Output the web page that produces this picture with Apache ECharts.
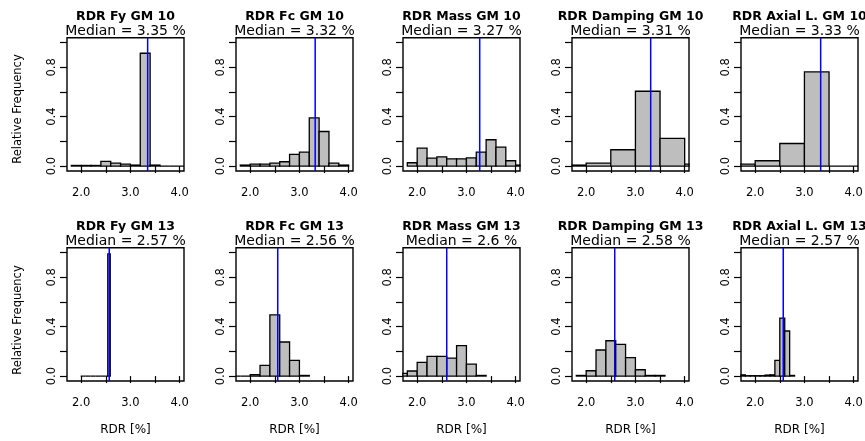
<!DOCTYPE html>
<html>
<head>
<meta charset="utf-8">
<script src="https://cdn.jsdelivr.net/npm/echarts@6/dist/echarts.min.js"></script>
<style>
html, body { margin: 0; padding: 0; background: #fff; }
#chart { width: 865px; height: 441px; }
</style>
</head>
<body>
<div id="chart"></div>
<script>
var myChart = echarts.init(document.getElementById('chart'));

// panel titles, top row = GM 10, bottom row = GM 13
var titles = [
    'RDR Fy GM 10', 'RDR Fc GM 10', 'RDR Mass GM 10', 'RDR Damping GM 10', 'RDR Axial L. GM 10',
    'RDR Fy GM 13', 'RDR Fc GM 13', 'RDR Mass GM 13', 'RDR Damping GM 13', 'RDR Axial L. GM 13'
];
var medians = [3.35, 3.32, 3.27, 3.31, 3.33, 2.57, 2.56, 2.6, 2.58, 2.57];

// histogram breaks: first break and bin width of each panel
var binStart = [1.8, 1.8, 1.8, 1.5, 1.5, 1.99, 1.6, 1.6, 1.8, 1.7];
var binWidth = [0.2, 0.2, 0.2, 0.5, 0.5, 0.05, 0.2, 0.2, 0.2, 0.1];

// relative frequencies, one value per bin
var fyGM10 = [0.005, 0.005, 0.005, 0.038, 0.024, 0.016, 0.008, 0.914, 0.008, 0, 0, 0];
var fcGM10 = [0.008, 0.016, 0.016, 0.024, 0.035, 0.094, 0.113, 0.39, 0.28, 0.024, 0.008];
var massGM10 = [0.027, 0.146, 0.065, 0.075, 0.059, 0.059, 0.067, 0.113, 0.213, 0.154, 0.043, 0.008];
var dampGM10 = [0.008, 0.024, 0.132, 0.606, 0.224, 0.016];
var axialGM10 = [0.016, 0.043, 0.183, 0.763, 0, 0];
var fyGM13 = [0, 0, 0, 0, 0, 0, 0, 0, 0, 0, 0, 0.99];
var fcGM13 = [0, 0, 0.011, 0.086, 0.495, 0.276, 0.127, 0.005];
var massGM13 = [0.022, 0.041, 0.111, 0.159, 0.159, 0.146, 0.246, 0.097, 0.005];
var dampGM13 = [0.005, 0.043, 0.211, 0.286, 0.257, 0.149, 0.051, 0.005, 0.005];
var axialGM13 = [0.01, 0.003, 0.003, 0.003, 0.003, 0.008, 0.01, 0.127, 0.47, 0.365, 0.005];
var freqs = [fyGM10, fcGM10, massGM10, dampGM10, axialGM10,
             fyGM13, fcGM13, massGM13, dampGM13, axialGM13];

var xTicks = [2, 2.5, 3, 3.5, 4];
var xLabels = [2, 3, 4];
var yTicks = [0, 0.2, 0.4, 0.6, 0.8, 1];
var yLabels = [0, 0.4, 0.8];

var fontFam = 'DejaVu Sans';
var colLeft = [67, 236, 403, 572, 741];
var rowTop = [37.7, 247.7];
var boxW = 117, boxH = 133.3;

var grid = [], xAxis = [], yAxis = [], series = [], title = [];

function fmt(v) { return v.toFixed(1); }

// one histogram bar, clipped to the plot box
function barItem(params, api) {
    var p0 = api.coord([api.value(0), api.value(2)]);
    var p1 = api.coord([api.value(1), 0]);
    var cs = params.coordSys;
    var xa = Math.max(p0[0], cs.x);
    var xb = Math.min(p1[0], cs.x + cs.width);
    if (xb <= xa) return;
    return {
        type: 'rect',
        shape: { x: xa, y: p0[1], width: xb - xa, height: p1[1] - p0[1] },
        style: { fill: '#bebebe', stroke: '#000', lineWidth: 1.3 }
    };
}

for (var i = 0; i < 10; i++) {
    var r = Math.floor(i / 5), c = i % 5;
    var gLeft = colLeft[c], gTop = rowTop[r];

    grid.push({
        left: gLeft, top: gTop, width: boxW, height: boxH,
        show: true, borderColor: '#000', borderWidth: 1.4,
        backgroundColor: 'transparent', containLabel: false, outerBoundsMode: 'none'
    });

    xAxis.push({
        type: 'value', gridIndex: i, min: 1.712, max: 4.088,
        axisLine: { show: false },
        axisTick: { show: true, length: 7, customValues: xTicks, lineStyle: { color: '#000', width: 1.2 } },
        axisLabel: { customValues: xLabels, formatter: fmt, color: '#000', fontFamily: fontFam, fontSize: 11.5, margin: 16 },
        splitLine: { show: false },
        name: r === 1 ? 'RDR [%]' : '',
        nameLocation: 'middle', nameGap: 43,
        nameTextStyle: { color: '#000', fontFamily: fontFam, fontSize: 12 }
    });

    yAxis.push({
        type: 'value', gridIndex: i, min: -0.04, max: 1.04,
        axisLine: { show: false },
        axisTick: { show: true, length: 7, customValues: yTicks, lineStyle: { color: '#000', width: 1.2 } },
        axisLabel: { customValues: yLabels, formatter: fmt, rotate: 90, color: '#000', fontFamily: fontFam, fontSize: 11.5, margin: 9 },
        splitLine: { show: false }
    });

    var bars = [];
    for (var k = 0; k < freqs[i].length; k++) {
        var x0 = binStart[i] + k * binWidth[i];
        bars.push([x0, x0 + binWidth[i], freqs[i][k]]);
    }

    series.push({
        type: 'custom', xAxisIndex: i, yAxisIndex: i,
        data: bars,
        encode: { x: [0, 1], y: 2 },
        renderItem: barItem,
        silent: true, animation: false
    });

    // median line
    series.push({
        type: 'line', xAxisIndex: i, yAxisIndex: i,
        data: [[medians[i], -0.04], [medians[i], 1.04]],
        symbol: 'none',
        lineStyle: { color: '#0000ff', width: 1.5 },
        silent: true, animation: false
    });

    title.push({
        text: titles[i],
        subtext: 'Median = ' + medians[i] + ' %',
        left: gLeft + boxW / 2, top: gTop - 27,
        textAlign: 'center', padding: 0, itemGap: 0.5,
        textStyle: { fontFamily: fontFam, fontWeight: 'bold', fontSize: 12.5, lineHeight: 12.5, color: '#000' },
        subtextStyle: { fontFamily: fontFam, fontSize: 14, lineHeight: 14, color: '#000' }
    });
}

var graphic = [109, 320].map(function (yc) {
    return {
        type: 'text', x: 18.3, y: yc, rotation: Math.PI / 2,
        style: {
            text: 'Relative Frequency', fill: '#000',
            fontFamily: fontFam, fontSize: 11.5,
            align: 'center', verticalAlign: 'middle',
            textAlign: 'center', textVerticalAlign: 'middle'
        }
    };
});

var option = {
    backgroundColor: '#fff',
    animation: false,
    title: title,
    grid: grid,
    xAxis: xAxis,
    yAxis: yAxis,
    series: series,
    graphic: graphic
};

myChart.setOption(option);
</script>
</body>
</html>
